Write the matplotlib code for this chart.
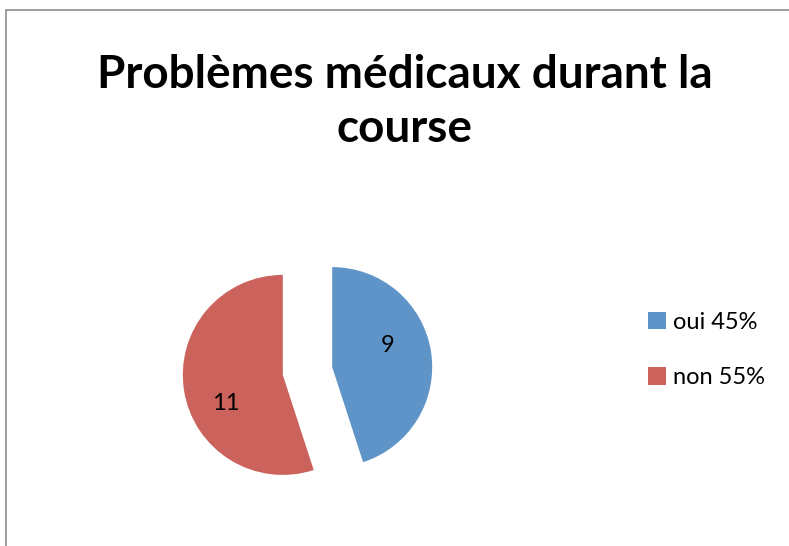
import matplotlib.pyplot as plt
from matplotlib.patches import Rectangle

# data
categories = ['oui', 'non']
values = [9, 11]
colors = ['#5F94C9', '#CB625B']

title = 'Problèmes médicaux durant la\ncourse'

plt.rcParams['font.family'] = ['Lato', 'DejaVu Sans']

fig = plt.figure(figsize=(7.89, 5.46), dpi=100)

# chart frame (gray border, cut at right/bottom)
fig.patches.append(Rectangle((6 / 789, -0.01), 1.0, (546 - 10) / 546 + 0.01,
                             transform=fig.transFigure, fill=False,
                             edgecolor='#8c8c8c', linewidth=1.2))

fig.text(405 / 789, 1 - 102 / 546, title, ha='center', va='center',
         fontsize=33, fontweight='bold', linespacing=1.38)

# pie axes: center at (307.5, 371) px, radius 100 px
ax = fig.add_axes([(307.5 - 140) / 789, (546 - 371 - 140) / 546, 280 / 789, 280 / 546])
wedges, _ = ax.pie(values, colors=colors, startangle=90, counterclock=False,
                   explode=[0.25, 0.25], radius=1.0)
ax.set_xlim(-1.4, 1.4)
ax.set_ylim(-1.4, 1.4)
ax.set_aspect('equal')
ax.axis('off')

# value labels
label_pos = [(0.80, 0.26), (-0.82, -0.32)]
for v, (x, y) in zip(values, label_pos):
    ax.text(x, y, str(v), ha='center', va='center', fontsize=17)

total = sum(values)
legend_labels = [f'{c} {round(v / total * 100)}%' for c, v in zip(categories, values)]
fig.legend(wedges, legend_labels, loc='center left',
           bbox_to_anchor=(627 / 789, 1 - 350 / 546), frameon=False,
           fontsize=17, handlelength=0.75, handleheight=0.75,
           handletextpad=0.3, labelspacing=1.45)

fig.savefig('out.png', dpi=100)
